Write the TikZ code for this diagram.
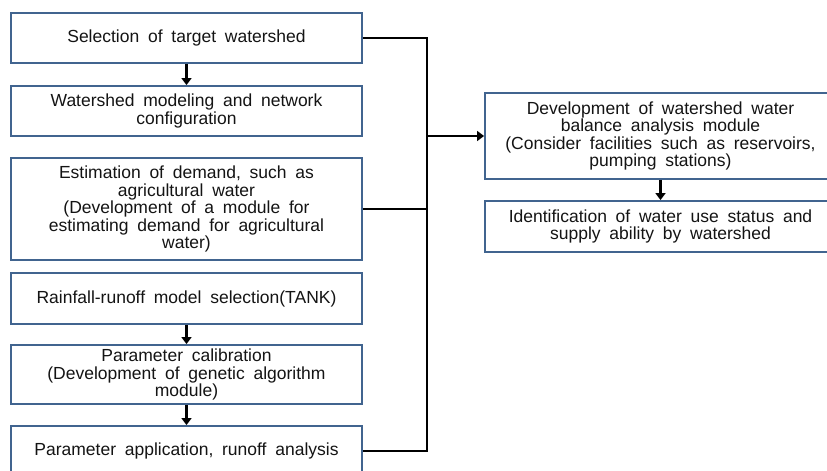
\documentclass[tikz,border=0pt]{standalone}
\usepackage{fontspec}
\setmainfont{Liberation Sans}[WordSpace=1.8]
\usetikzlibrary{arrows.meta}
\definecolor{boxblue}{HTML}{41648F}
\definecolor{txt}{HTML}{141414}
\begin{document}
\begin{tikzpicture}[x=1pt,y=-1pt,
  box/.style={draw=boxblue,line width=1.9pt,fill=white,align=center,inner sep=1pt,
    text=txt,font=\fontsize{17.5}{17.5}\selectfont,minimum width=351pt},
  conn/.style={line width=2.8pt,black},
  arr/.style={conn,-{Triangle[length=7pt,width=10pt]}}]
\useasboundingbox (0,0) rectangle (827,471);
\clip (0,0) rectangle (827,471);
\node[box,minimum height=50pt] (b1) at (186.5,38) {Selection of target watershed};
\node[box,minimum height=50pt] (b2) at (186.5,111) {Watershed modeling and network\\configuration};
\node[box,minimum height=102pt] (b3) at (186.5,209) {Estimation of demand, such as\\agricultural water\\(Development of a module for\\estimating demand for agricultural\\water)};
\node[box,minimum height=51pt] (b4) at (186.5,298.5) {Rainfall-runoff model selection(TANK)};
\node[box,minimum height=59pt] (b5) at (186.5,374.5) {Parameter calibration\\(Development of genetic algorithm\\module)};
\node[box,minimum height=50pt] (b6) at (186.5,451) {Parameter application, runoff analysis};
\node[box,minimum height=86pt] (r1) at (660.5,136) {Development of watershed water\\balance analysis module\\(Consider facilities such as reservoirs,\\pumping stations)};
\node[box,minimum height=51pt] (r2) at (660.5,226.5) {Identification of water use status and\\supply ability by watershed};
\coordinate (jx) at (427,0);
\draw[arr] (b1.south) -- (b2.north);
\draw[arr] (b4.south) -- (b5.north);
\draw[arr] (b5.south) -- (b6.north);
\draw[arr] (r1.south) -- (r2.north);
\draw[conn] (b1.east) -- (b1.east -| jx) -- (b6.east -| jx) -- (b6.east);
\draw[conn] (b3.east) -- (b3.east -| jx);
\draw[arr] (r1.west -| jx) -- (r1.west);
\end{tikzpicture}
\end{document}
